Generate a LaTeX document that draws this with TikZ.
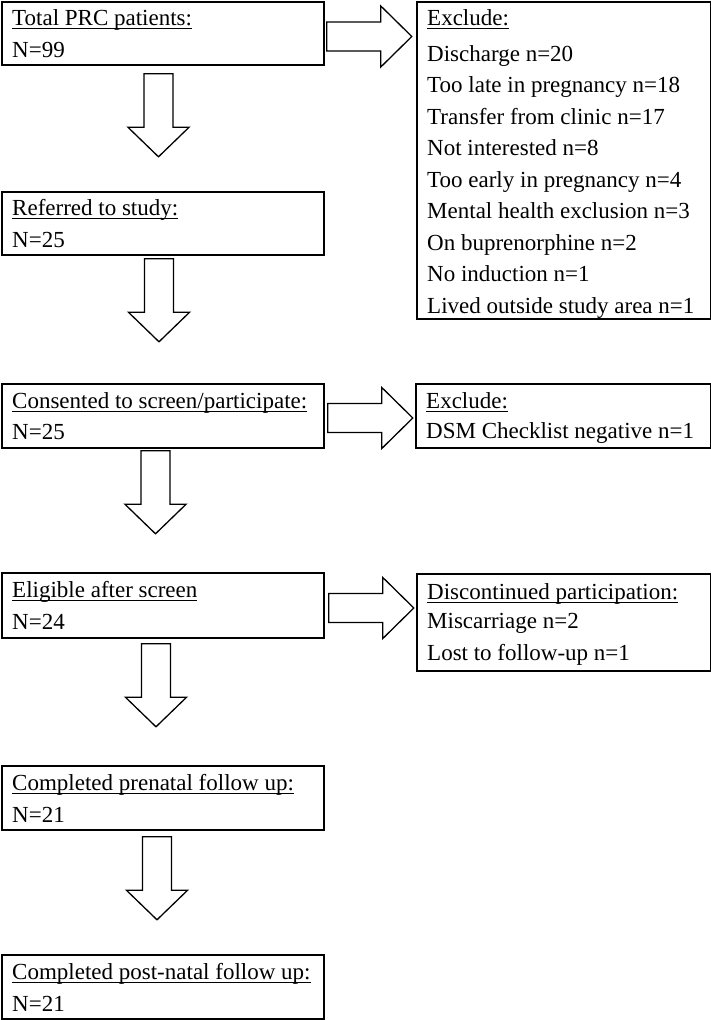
\documentclass[tikz,border=0pt]{standalone}
\usepackage{fontspec}
\setmainfont{Liberation Serif}
\usetikzlibrary{calc}
\newcommand\myul[1]{\setbox0\hbox{#1}\rlap{\rule[-4.4pt]{\wd0}{1.2pt}}\box0}
\begin{document}
\begin{tikzpicture}[x=1pt,y=-1pt,
  box/.style={draw,line width=1.8pt,inner sep=0pt,anchor=north west},
  txt/.style={anchor=base west,inner sep=0pt,font=\fontsize{23}{28}\selectfont},
  arrowline/.style={draw,line width=1.3pt,line join=miter},
  downarr/.pic={\path[arrowline] (-14.5,0) -- (-14.5,53.5) -- (-30.5,53.5) -- (0,83) -- (30.5,53.5) -- (14.5,53.5) -- (14.5,0) -- cycle;},
  rightarr/.pic={\path[arrowline] (0,-14.5) -- (54,-14.5) -- (54,-30.5) -- (85,0) -- (54,30.5) -- (54,14.5) -- (0,14.5) -- cycle;}]
\useasboundingbox[fill=white] (0,0) rectangle (711,1020);

% main column boxes
\node[box,minimum width=322pt,minimum height=63pt] (b1) at (1,1) {};
\node[box,minimum width=322pt,minimum height=63pt] (b2) at (1,191) {};
\node[box,minimum width=322pt,minimum height=64pt] (b3) at (1,383) {};
\node[box,minimum width=322pt,minimum height=65pt] (b4) at (1,572) {};
\node[box,minimum width=322pt,minimum height=64pt] (b5) at (1,765) {};
\node[box,minimum width=322pt,minimum height=64pt] (b6) at (1,954) {};
% side boxes
\node[box,minimum width=294pt,minimum height=317pt] (e1) at (416,1) {};
\node[box,minimum width=295pt,minimum height=64pt] (e2) at (415,383) {};
\node[box,minimum width=294pt,minimum height=97pt] (e3) at (416,573) {};

% texts main column
\node[txt] (b1a) at ($(b1.north west)+(11,24)$) {\myul{Total PRC patients:}};
\node[txt] (b1b) at ($(b1.north west)+(11,56)$) {N=99};
\node[txt] (b2a) at ($(b2.north west)+(11,24)$) {\myul{Referred to study:}};
\node[txt] (b2b) at ($(b2.north west)+(11,56)$) {N=25};
\node[txt] (b3a) at ($(b3.north west)+(11,25)$) {\myul{Consented to screen/participate:}};
\node[txt] (b3b) at ($(b3.north west)+(11,56)$) {N=25};
\node[txt] (b4a) at ($(b4.north west)+(11,25)$) {\myul{Eligible after screen}};
\node[txt] (b4b) at ($(b4.north west)+(11,57)$) {N=24};
\node[txt] (b5a) at ($(b5.north west)+(11,25)$) {\myul{Completed prenatal follow up:}};
\node[txt] (b5b) at ($(b5.north west)+(11,57)$) {N=21};
\node[txt] (b6a) at ($(b6.north west)+(11,25)$) {\myul{Completed post-natal follow up:}};
\node[txt] (b6b) at ($(b6.north west)+(11,57)$) {N=21};

% texts side boxes
\node[txt] (e1a) at ($(e1.north west)+(11,24)$) {\myul{Exclude:}};
\node[txt] (e1b) at ($(e1.north west)+(11,60)$) {Discharge n=20};
\node[txt] (e1c) at ($(e1.north west)+(11,91.5)$) {Too late in pregnancy n=18};
\node[txt] (e1d) at ($(e1.north west)+(11,123)$) {Transfer from clinic n=17};
\node[txt] (e1e) at ($(e1.north west)+(11,154.5)$) {Not interested n=8};
\node[txt] (e1f) at ($(e1.north west)+(11,186)$) {Too early in pregnancy n=4};
\node[txt] (e1g) at ($(e1.north west)+(11,217.5)$) {Mental health exclusion n=3};
\node[txt] (e1h) at ($(e1.north west)+(11,249)$) {On buprenorphine n=2};
\node[txt] (e1i) at ($(e1.north west)+(11,280.5)$) {No induction n=1};
\node[txt] (e1j) at ($(e1.north west)+(11,312)$) {Lived outside study area n=1};

\node[txt] (e2a) at ($(e2.north west)+(11,25)$) {\myul{Exclude:}};
\node[txt] (e2b) at ($(e2.north west)+(11,55)$) {DSM Checklist negative n=1};

\node[txt] (e3a) at ($(e3.north west)+(11,26)$) {\myul{Discontinued participation:}};
\node[txt] (e3b) at ($(e3.north west)+(11,55)$) {Miscarriage n=2};
\node[txt] (e3c) at ($(e3.north west)+(11,87)$) {Lost to follow-up n=1};

% block arrows down
\pic at ($(b1.south west)+(157.5,8)$) {downarr};
\pic at ($(b2.south west)+(158,3)$) {downarr};
\pic at ($(b3.south west)+(154.5,2)$) {downarr};
\pic at ($(b4.south west)+(155,5)$) {downarr};
\pic at ($(b5.south west)+(156,6)$) {downarr};
% block arrows right
\pic at ($(b1.north east)+(2,35.5)$) {rightarr};
\pic at ($(b3.north east)+(3,35)$) {rightarr};
\pic at ($(b4.north east)+(4,36)$) {rightarr};
\end{tikzpicture}
\end{document}
